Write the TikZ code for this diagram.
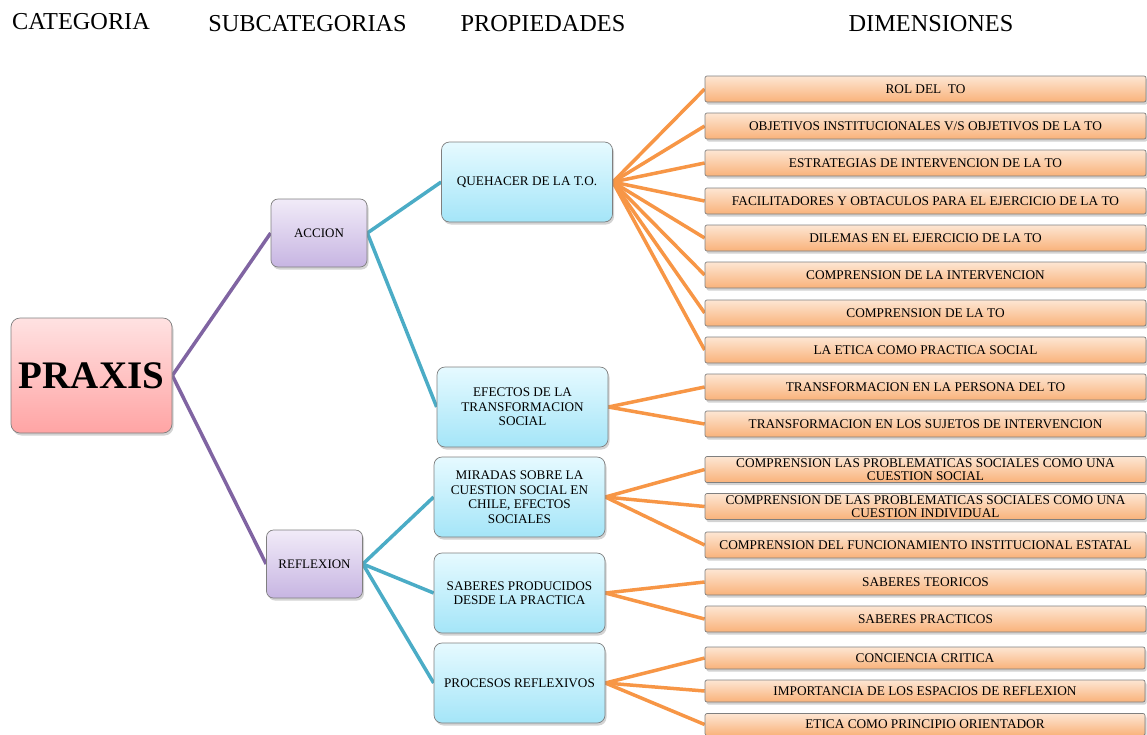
\documentclass[tikz,border=0pt]{standalone}
\usepackage{fontspec}
\setmainfont{Liberation Serif}
\usetikzlibrary{shadows,backgrounds}
\definecolor{pinkT}{HTML}{FFE2E2}
\definecolor{pinkB}{HTML}{FFA4A4}
\definecolor{lavT}{HTML}{F1EBF8}
\definecolor{lavB}{HTML}{C7B5E2}
\definecolor{cyanT}{HTML}{E6FAFF}
\definecolor{cyanB}{HTML}{A4E5F8}
\definecolor{orT}{HTML}{FDE6D3}
\definecolor{orB}{HTML}{F9B27A}
\definecolor{linP}{HTML}{8064A2}
\definecolor{linT}{HTML}{4BACC6}
\definecolor{linO}{HTML}{F79646}
\definecolor{bord}{HTML}{7F7F7F}
\begin{document}
\begin{tikzpicture}[x=1pt,y=-1pt,
  base/.style={draw=bord, line width=0.7pt, align=center, inner sep=1pt,
    drop shadow={opacity=0.35,shadow xshift=1.5pt,shadow yshift=-2.5pt}},
  catbox/.style={base, rounded corners=9pt, top color=pinkT, bottom color=pinkB,
    font=\fontsize{39}{40}\selectfont\bfseries, minimum width=161pt, minimum height=115pt},
  subbox/.style={base, rounded corners=7pt, top color=lavT, bottom color=lavB,
    font=\fontsize{13}{14}\selectfont, minimum width=96pt, minimum height=68pt},
  propbox/.style={base, rounded corners=8pt, top color=cyanT, bottom color=cyanB,
    font=\fontsize{13.2}{14.5}\selectfont, minimum width=171pt, minimum height=80pt},
  dimbox/.style={base, rounded corners=2pt, top color=orT, bottom color=orB,
    font=\fontsize{13.3}{13}\selectfont, minimum width=441pt, minimum height=26pt, inner sep=0pt},
  dimsmall/.style={dimbox, minimum height=22pt, minimum width=440pt},
  head/.style={font=\fontsize{24.3}{25}\selectfont, inner sep=0pt},
  purp/.style={draw=linP, line width=3.5pt},
  teal/.style={draw=linT, line width=3.5pt},
  oran/.style={draw=linO, line width=3.5pt}
]
\useasboundingbox (0,0) rectangle (1147,734);

\node[head] (h1) at (81,22) {CATEGORIA};
\node[head] (h2) at (307.5,24) {SUBCATEGORIAS};
\node[head] (h3) at (543,24) {PROPIEDADES};
\node[head] (h4) at (931,24) {DIMENSIONES};

\node[catbox] (praxis) at (91.5,375.5) {PRAXIS};
\node[subbox] (accion) at (319,233) {ACCION};
\node[subbox] (reflex) at (314.5,564) {REFLEXION};

\node[propbox] (queh) at (527,182) {QUEHACER DE LA T.O.};
\node[propbox] (efec) at (522.5,407) {EFECTOS DE LA\\TRANSFORMACION\\SOCIAL};
\node[propbox] (mira) at (519.5,497) {MIRADAS SOBRE LA\\CUESTION SOCIAL EN\\CHILE, EFECTOS\\SOCIALES};
\node[propbox] (sabe) at (519.5,593) {SABERES PRODUCIDOS\\DESDE LA PRACTICA};
\node[propbox] (proc) at (519.5,683) {PROCESOS REFLEXIVOS};

\node[dimbox] (d1) at (925.5,89) {ROL DEL\ \ TO};
\node[dimbox] (d2) at (925.5,126) {OBJETIVOS INSTITUCIONALES V/S OBJETIVOS DE LA TO};
\node[dimbox] (d3) at (925.5,163) {ESTRATEGIAS DE INTERVENCION DE LA TO};
\node[dimbox] (d4) at (925.5,201) {FACILITADORES Y OBTACULOS PARA EL EJERCICIO DE LA TO};
\node[dimbox] (d5) at (925.5,238) {DILEMAS EN EL EJERCICIO DE LA TO};
\node[dimbox] (d6) at (925.5,275) {COMPRENSION DE LA INTERVENCION};
\node[dimbox] (d7) at (925.5,313) {COMPRENSION DE LA TO};
\node[dimbox] (d8) at (925.5,350) {LA ETICA COMO PRACTICA SOCIAL};
\node[dimbox] (d9) at (925.5,387) {TRANSFORMACION EN LA PERSONA DEL TO};
\node[dimbox] (d10) at (925.5,424) {TRANSFORMACION EN LOS SUJETOS DE INTERVENCION};
\node[dimbox] (d11) at (925.5,469.5) {COMPRENSION LAS PROBLEMATICAS SOCIALES COMO UNA\\CUESTION SOCIAL};
\node[dimbox] (d12) at (925.5,506.5) {COMPRENSION DE LAS PROBLEMATICAS SOCIALES COMO UNA\\CUESTION INDIVIDUAL};
\node[dimbox] (d13) at (925.5,545) {COMPRENSION DEL FUNCIONAMIENTO INSTITUCIONAL ESTATAL};
\node[dimbox] (d14) at (925.5,582) {SABERES TEORICOS};
\node[dimbox] (d15) at (925.5,619) {SABERES PRACTICOS};
\node[dimsmall] (d16) at (925,658) {CONCIENCIA CRITICA};
\node[dimsmall] (d17) at (925,691) {IMPORTANCIA DE LOS ESPACIOS DE REFLEXION};
\node[dimsmall] (d18) at (925,724.5) {ETICA COMO PRINCIPIO ORIENTADOR};

\begin{scope}[on background layer]
\draw[purp] (praxis.east) -- (accion.west);
\draw[purp] (praxis.east) -- (reflex.west);
\draw[teal] (accion.east) -- (queh.west);
\draw[teal] (accion.east) -- (efec.west);
\draw[teal] (reflex.east) -- (mira.west);
\draw[teal] (reflex.east) -- (sabe.west);
\draw[teal] (reflex.east) -- (proc.west);
\foreach \d in {d1,d2,d3,d4,d5,d6,d7,d8} \draw[oran] (queh.east) -- (\d.west);
\foreach \d in {d9,d10} \draw[oran] (efec.east) -- (\d.west);
\foreach \d in {d11,d12,d13} \draw[oran] (mira.east) -- (\d.west);
\foreach \d in {d14,d15} \draw[oran] (sabe.east) -- (\d.west);
\foreach \d in {d16,d17,d18} \draw[oran] (proc.east) -- (\d.west);
\end{scope}
\end{tikzpicture}
\end{document}
